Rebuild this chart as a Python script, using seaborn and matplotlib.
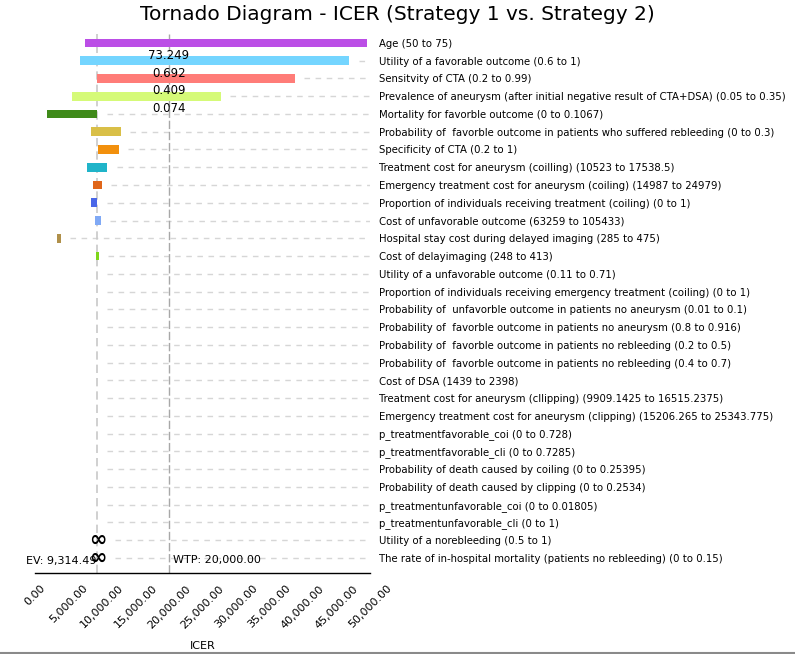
import numpy as np
import pandas as pd
import matplotlib
matplotlib.use("Agg")
import matplotlib.pyplot as plt
import seaborn as sns

sns.set_theme(style="white")
plt.rcParams["font.family"] = ["DejaVu Sans"]
plt.rcParams.update({"text.color": "black", "xtick.color": "black",
                     "ytick.color": "black", "axes.labelcolor": "black"})

# ---- data ----
params = [
    "Age (50 to 75)",
    "Utility of a favorable outcome (0.6 to 1)",
    "Sensitvity of CTA (0.2 to 0.99)",
    "Prevalence of aneurysm (after initial negative result of CTA+DSA) (0.05 to 0.35)",
    "Mortality for favorble outcome (0 to 0.1067)",
    "Probability of  favorble outcome in patients who suffered rebleeding (0 to 0.3)",
    "Specificity of CTA (0.2 to 1)",
    "Treatment cost for aneurysm (coilling) (10523 to 17538.5)",
    "Emergency treatment cost for aneurysm (coiling) (14987 to 24979)",
    "Proportion of individuals receiving treatment (coiling) (0 to 1)",
    "Cost of unfavorable outcome (63259 to 105433)",
    "Hospital stay cost during delayed imaging (285 to 475)",
    "Cost of delayimaging (248 to 413)",
    "Utility of a unfavorable outcome (0.11 to 0.71)",
    "Proportion of individuals receiving emergency treatment (coiling) (0 to 1)",
    "Probability of  unfavorble outcome in patients no aneurysm (0.01 to 0.1)",
    "Probability of  favorble outcome in patients no aneurysm (0.8 to 0.916)",
    "Probability of  favorble outcome in patients no rebleeding (0.2 to 0.5)",
    "Probability of  favorble outcome in patients no rebleeding (0.4 to 0.7)",
    "Cost of DSA (1439 to 2398)",
    "Treatment cost for aneurysm (cllipping) (9909.1425 to 16515.2375)",
    "Emergency treatment cost for aneurysm (clipping) (15206.265 to 25343.775)",
    "p_treatmentfavorable_coi (0 to 0.728)",
    "p_treatmentfavorable_cli (0 to 0.7285)",
    "Probability of death caused by coiling (0 to 0.25395)",
    "Probability of death caused by clipping (0 to 0.2534)",
    "p_treatmentunfavorable_coi (0 to 0.01805)",
    "p_treatmentunfavorable_cli (0 to 1)",
    "Utility of a norebleeding (0.5 to 1)",
    "The rate of in-hospital mortality (patients no rebleeding) (0 to 0.15)",
]

ev = 9314.49
wtp = 20000.0

icer_low = [7420, 6760, 9314.49, 5570, 1840, 8360, 9450, 7810, 8710, 8360,
            9000, 3330, 9120, 9250, 9220] + [9314.49] * 13 + [np.inf, np.inf]
icer_high = [49500, 46900, 38800, 27760, 9314.49, 12790, 12540, 10800, 9950, 9314.49,
             9800, 3880, 9500, 9330, 9314.49] + [9314.49] * 13 + [np.inf, np.inf]

bar_colors = ["#BB4EE6", "#74D5FF", "#FF7C78", "#D5FA78", "#3F8A1A", "#D9BF47",
              "#F2900D", "#20B4C9", "#E0661A", "#4A67E8", "#80A9F5", "#B0904A",
              "#7ED61A", "#5A9A5A", "#D49A70"] + ["#BBBBBB"] * 15

threshold_text = ["", "73.249", "0.692", "0.409", "0.074"] + [""] * 25

df = pd.DataFrame({"param": params, "low": icer_low, "high": icer_high,
                   "color": bar_colors, "threshold": threshold_text})
df["row"] = np.arange(len(df))
finite = np.isfinite(df["low"])

fig = plt.figure(figsize=(7.95, 6.54), dpi=100)
ax = fig.add_axes([0.044, 0.1239, 0.4214, 0.824])

# dashed row guides, starting just right of each bar
for r, hi, ok in zip(df["row"], df["high"], finite):
    start = (hi + 1400) if ok else (ev + 2700)
    if start < 50000:
        ax.plot([start, 50000], [r, r], color="#D6D6D6", lw=1, ls=(0, (4, 4)), zorder=1)

ax.axvline(ev, color="#C8C8C8", lw=1.2, ls=(0, (5, 3)), zorder=1)
ax.axvline(wtp, color="#A8A8A8", lw=1, ls=(0, (6, 2)), zorder=1)

fin = df[finite]
ax.barh(fin["row"], fin["high"] - fin["low"], left=fin["low"], height=0.5,
        color=fin["color"], edgecolor="none", zorder=2)

for r, t in zip(df["row"], df["threshold"]):
    if t:
        ax.text(wtp, r - 0.3, t, ha="center", va="center", fontsize=8.5, zorder=3)

for r in df.loc[~finite, "row"]:
    ax.text(ev, r, "\u221e", ha="center", va="center", fontsize=15, fontweight="bold", zorder=3)

ax.text(ev - 150, 29.15, "EV: 9,314.49", ha="right", va="center", fontsize=8)
ax.text(wtp + 600, 29.1, "WTP: 20,000.00", ha="left", va="center", fontsize=8)

ax.set_xlim(0, 50000)
ax.set_ylim(29.85, -0.5)
ax.yaxis.tick_right()
ax.set_yticks(df["row"])
ax.set_yticklabels(df["param"], fontsize=7.3)
ax.tick_params(axis="y", length=0, pad=6.5)

xt = np.arange(0, 50001, 5000)
ax.set_xticks(xt)
ax.set_xticklabels([f"{v:,.2f}" for v in xt], rotation=45, ha="center", fontsize=8)
ax.tick_params(axis="x", direction="inout", length=7, width=1.5, color="#A0A0A0",
               labelcolor="black", pad=4)
ax.set_xlabel("ICER", fontsize=8, labelpad=8)

sns.despine(ax=ax, left=True, right=True, top=True)
ax.spines["bottom"].set_color("black")
ax.spines["bottom"].set_linewidth(1)

fig.suptitle("Tornado Diagram - ICER (Strategy 1 vs. Strategy 2)", fontsize=14.5,
             y=0.993, color="black")

# thin window edge along the bottom of the image
fig.add_artist(plt.Line2D([0, 1], [0.002, 0.002], transform=fig.transFigure,
                          color="#8A8A8A", lw=1.5))

fig.savefig("out.png", dpi=100)
